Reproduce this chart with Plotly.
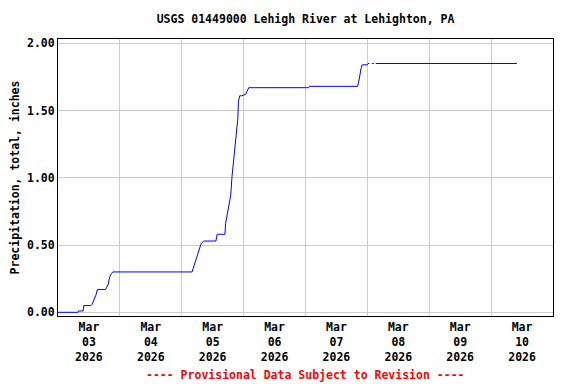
import plotly.graph_objects as go

title_text = "USGS 01449000 Lehigh River at Lehighton, PA"
y_title = "Precipitation, total, inches"
footer_text = "---- Provisional Data Subject to Revision ----"

times = [
    "2026-03-03 00:00", "2026-03-03 07:45", "2026-03-03 08:00", "2026-03-03 09:45",
    "2026-03-03 10:00", "2026-03-03 12:45", "2026-03-03 13:15", "2026-03-03 14:00",
    "2026-03-03 14:45", "2026-03-03 15:15", "2026-03-03 18:30", "2026-03-03 19:30",
    "2026-03-03 20:00", "2026-03-03 20:45", "2026-03-03 21:15", "2026-03-05 04:00",
    "2026-03-05 05:00", "2026-03-05 06:15", "2026-03-05 07:00", "2026-03-05 07:30",
    "2026-03-05 08:30", "2026-03-05 13:15", "2026-03-05 13:45", "2026-03-05 16:45",
    "2026-03-05 17:00", "2026-03-05 17:45", "2026-03-05 18:30", "2026-03-05 19:00",
    "2026-03-05 19:30", "2026-03-05 19:45", "2026-03-05 20:00", "2026-03-05 20:30",
    "2026-03-05 21:00", "2026-03-05 21:15", "2026-03-05 21:45", "2026-03-05 22:00",
    "2026-03-05 22:30", "2026-03-05 23:15", "2026-03-06 00:45", "2026-03-06 01:15",
    "2026-03-06 02:00", "2026-03-07 01:15", "2026-03-07 01:30", "2026-03-07 20:15",
    "2026-03-07 20:30", "2026-03-07 21:00", "2026-03-07 21:30", "2026-03-07 22:00",
    "2026-03-08 00:00", "2026-03-08 00:15", "2026-03-08 00:45", "2026-03-08 01:15",
    "2026-03-08 01:45", "2026-03-08 02:30", "2026-03-08 02:45", "2026-03-08 03:15",
    "2026-03-10 10:00",
]
precip = [
    0.00, 0.00, 0.01, 0.01,
    0.05, 0.05, 0.06, 0.09,
    0.13, 0.17, 0.17, 0.21,
    0.26, 0.29, 0.30, 0.30,
    0.36, 0.42, 0.47, 0.51,
    0.53, 0.53, 0.58, 0.58,
    0.66, 0.74, 0.81, 0.87,
    1.01, 1.06, 1.11, 1.17,
    1.26, 1.33, 1.44, 1.57,
    1.61, 1.61, 1.62, 1.64,
    1.67, 1.67, 1.68, 1.68,
    1.70, 1.75, 1.81, 1.84,
    1.84, 1.85, 1.85, None,
    1.85, 1.85, None, 1.85,
    1.85,
]

FONT = "DejaVu Sans Mono"

# the page puts the figure 8px in from the window's top-left corner
OFF = 8
L, R, T, B = 58 - OFF, 576 - (553 - OFF), 39 - OFF, 384 - (316 - OFF)
PH = 384 - T - B

fig = go.Figure()
fig.add_trace(go.Scatter(
    x=times, y=precip, mode="lines",
    line=dict(color="#0000ff", width=1),
    connectgaps=False, hoverinfo="skip",
))

fig.update_layout(
    width=576, height=384,
    margin=dict(l=L, r=R, t=T, b=B, autoexpand=False),
    paper_bgcolor="white", plot_bgcolor="white",
    showlegend=False,
    font=dict(family=FONT, size=11, color="black", weight="bold"),
    title=dict(text=title_text, x=(305.5 - OFF) / 576, xanchor="center",
               y=1 - (19 - OFF) / 384, yanchor="middle",
               font=dict(family=FONT, size=11.5, color="black", weight="bold")),
)

fig.update_xaxes(
    type="date", automargin=False,
    range=["2026-03-03 00:00", "2026-03-11 00:00"],
    dtick=86400000, tick0="2026-03-03",
    ticklabelmode="period",
    tickformat="%b<br>%d<br>%Y",
    showgrid=True, gridcolor="#cccccc", gridwidth=1,
    showline=True, linecolor="black", linewidth=1, mirror=True,
    ticks="", zeroline=False,
    tickfont=dict(family=FONT, size=11.5, weight="bold"),
)
fig.update_yaxes(
    automargin=False,
    range=[-0.0275, 2.032],
    tickvals=[0, 0.5, 1.0, 1.5, 2.0],
    tickformat=".2f",
    showgrid=True, gridcolor="#cccccc", gridwidth=1,
    showline=True, linecolor="black", linewidth=1, mirror=True,
    ticks="", zeroline=False,
    title=dict(text=y_title, standoff=8,
               font=dict(family=FONT, size=11.5, weight="bold")),
    tickfont=dict(family=FONT, size=11.5, weight="bold"),
)

fig.add_annotation(
    text=footer_text, xref="paper", yref="paper",
    x=0.5, y=-(375 - 316) / PH, xanchor="center", yanchor="middle",
    showarrow=False,
    font=dict(family=FONT, size=11.5, color="red", weight="bold"),
)

fig.write_html("out.html")
